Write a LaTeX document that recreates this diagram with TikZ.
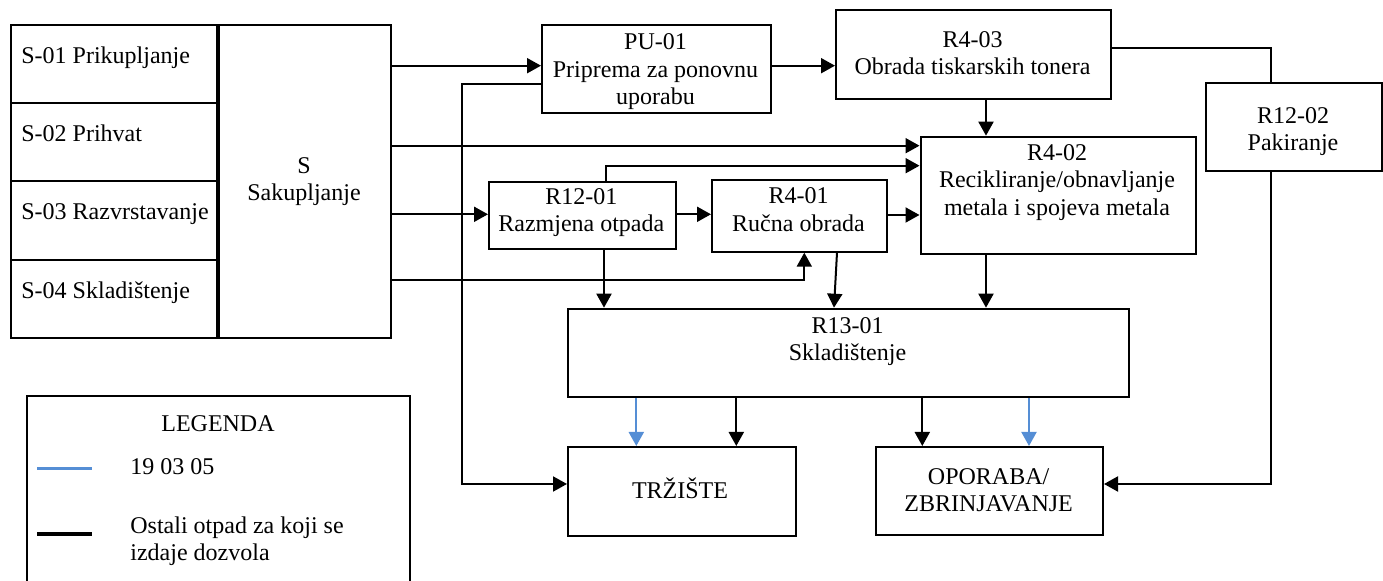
\documentclass[tikz,border=0pt]{standalone}
\usepackage{fontspec}
\setmainfont{Liberation Serif}
\usetikzlibrary{arrows.meta}
\definecolor{lblue}{HTML}{558ED5}
\begin{document}
\begin{tikzpicture}[x=0.5pt,y=-0.5pt,
  box/.style={draw, line width=1pt, inner sep=0pt, anchor=north west},
  txt/.style={inner sep=0pt, align=center, anchor=north, font=\fontsize{12pt}{13.8pt}\selectfont},
  ltxt/.style={inner sep=0pt, anchor=base west, font=\fontsize{12pt}{13.8pt}\selectfont},
  ctxt/.style={inner sep=0pt, anchor=base, font=\fontsize{12pt}{13.8pt}\selectfont},
  arr/.style={line width=1pt, -{Triangle[length=7pt,width=7.5pt]}},
  conn/.style={line width=1pt},
  barr/.style={line width=1pt, draw=lblue, -{Triangle[length=7pt,width=7.5pt]}}]
\useasboundingbox (0,0) rectangle (1383,581);

% S column
\node[box, minimum width=103pt, minimum height=39pt] (s1) at (10,24) {};
\node[box, minimum width=103pt, minimum height=39pt] (s2) at (10,102) {};
\node[box, minimum width=103pt, minimum height=39.5pt] (s3) at (10,180) {};
\node[box, minimum width=103pt, minimum height=39pt] (s4) at (10,259) {};
\node[ltxt] (s1t) at (21,64) {S-01 Prikupljanje};
\node[ltxt] (s2t) at (21,142) {S-02 Prihvat};
\node[ltxt] (s3t) at (21,220) {S-03 Razvrstavanje};
\node[ltxt] (s4t) at (21,299) {S-04 Skladištenje};

\node[box, minimum width=86pt, minimum height=156.5pt] (sbox) at (218,24) {};
\node[txt] (sboxt) at (304,173-19.32) {\strut S\\Sakupljanje};

% process boxes
\node[box, minimum width=114.5pt, minimum height=44pt] (pu) at (541,24) {};
\node[txt] (put) at (655.5,49.3-19.32) {\strut PU-01\\Priprema za ponovnu\\uporabu};

\node[box, minimum width=137.5pt, minimum height=44.2pt] (r403) at (835,9.3) {};
\node[txt] (r403t) at (972.5,46.7-19.32) {\strut R4-03\\Obrada tiskarskih tonera};

\node[box, minimum width=88pt, minimum height=44pt] (r1202) at (1205,82) {};
\node[txt] (r1202t) at (1293,122.7-19.32) {\strut R12-02\\Pakiranje};

\node[box, minimum width=137.5pt, minimum height=58.5pt] (r402) at (919.5,135.7) {};
\node[txt] (r402t) at (1057,160-19.32) {\strut R4-02\\Recikliranje/obnavljanje\\metala i spojeva metala};

\node[box, minimum width=93.35pt, minimum height=33.65pt] (r1201) at (488,180.7) {};
\node[txt] (r1201t) at (581.3,204-19.32) {\strut R12-01\\Razmjena otpada};

\node[box, minimum width=87.5pt, minimum height=35.85pt] (r401) at (711,179) {};
\node[txt] (r401t) at (798.5,203.3-19.32) {\strut R4-01\\Ručna obrada};

\node[box, minimum width=280.5pt, minimum height=44.15pt] (r1301) at (567,307.7) {};
\node[txt] (r1301t) at (847.5,333-19.32) {\strut R13-01\\Skladištenje};

\node[box, minimum width=113.85pt, minimum height=44.35pt] (trz) at (567,446) {};
\node[ctxt] (trzt) at (680,499) {TRŽIŠTE};

\node[box, minimum width=113.35pt, minimum height=44.25pt] (opo) at (875.3,446) {};
\node[txt] (opot) at (988.6,484-19.32) {\strut OPORABA/\\ZBRINJAVANJE};

% connectors
\draw[arr] (sbox.east |- 0,65.7) -- (pu.west |- 0,65.7);
\draw[arr] (pu.east |- 0,65.7) -- (r403.west |- 0,65.7);
\draw[conn] (r403.east |- 0,48.3) -| (r1202.north -| 1270.7,0);
\draw[arr] (r1202.south -| 1270.7,0) |- (opo.east |- 0,484);
\draw[arr] (r403.south -| 986,0) -- (r402.north -| 986,0);
\draw[arr] (sbox.east |- 0,145.7) -- (r402.west |- 0,145.7);
\draw[arr] (r1201.north -| 605.7,0) |- (r402.west |- 0,165.7);
\draw[arr] (sbox.east |- 0,214.3) -- (r1201.west |- 0,214.3);
\draw[arr] (r1201.east |- 0,214.3) -- (r401.west |- 0,214.3);
\draw[arr] (r401.east |- 0,215) -- (r402.west |- 0,215);
\draw[arr] (sbox.east |- 0,280) -| (r401.south -| 804.3,0);
\draw[arr] (pu.west |- 0,84) -- (462,84) |- (trz.west |- 0,484);
\draw[arr] (r1201.south -| 604,0) -- (r1301.north -| 604,0);
\draw[arr] (r401.south -| 837,0) -- (r1301.north -| 834,0);
\draw[arr] (r402.south -| 986,0) -- (r1301.north -| 986,0);
\draw[barr] (r1301.south -| 636.3,0) -- (trz.north -| 636.3,0);
\draw[arr] (r1301.south -| 736.3,0) -- (trz.north -| 736.3,0);
\draw[arr] (r1301.south -| 922.3,0) -- (opo.north -| 922.3,0);
\draw[barr] (r1301.south -| 1029,0) -- (opo.north -| 1029,0);

% legend
\draw[line width=1pt] (27.3,581) |- (410,395.7) -- (410,581);
\node[ctxt] (legt) at (218,431.7) {LEGENDA};
\coordinate (lb1) at (37,468.3);
\coordinate (lb2) at (91.7,468.3);
\draw[draw=lblue, line width=1.6pt] (lb1) -- (lb2);
\node[ltxt] (leg1) at (130,475) {19 03 05};
\coordinate (lk1) at (37,534.3);
\coordinate (lk2) at (91.7,534.3);
\draw[line width=2pt] (lk1) -- (lk2);
\node[txt, align=left, anchor=north west] (leg2) at (130,532.7-19.32) {\strut Ostali otpad za koji se\\izdaje dozvola};
\end{tikzpicture}
\end{document}
